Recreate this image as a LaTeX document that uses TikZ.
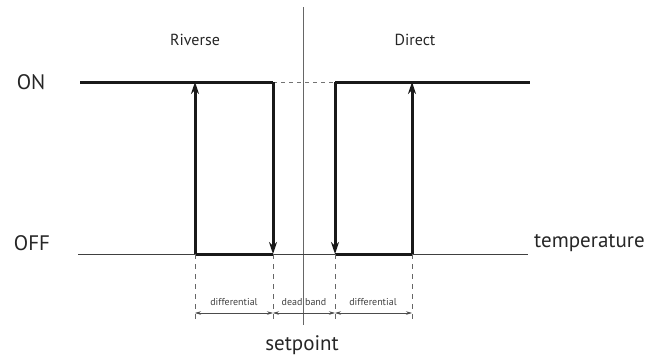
\documentclass[tikz,border=0pt]{standalone}
\usepackage{fontspec}
\setmainfont{PT Sans}
\usetikzlibrary{arrows.meta}
\begin{document}
\begin{tikzpicture}[x=1pt,y=-1pt,
  thickln/.style={line width=3pt,draw=black!90},
  thinln/.style={line width=1pt,draw=black!75},
  upar/.style={thickln,-{Stealth[length=12pt,width=8pt]}},
  dimar/.style={line width=0.6pt,draw=black!70,{Stealth[length=6pt,width=3.5pt]}-{Stealth[length=6pt,width=3.5pt]}},
  guide/.style={line width=0.7pt,draw=black!60,dash pattern=on 5pt off 5pt},
  bigtxt/.style={font=\fontsize{21}{22}\selectfont,text=black!85,inner sep=0pt},
  midtxt/.style={font=\fontsize{16}{17}\selectfont,text=black!85,inner sep=0pt},
  smalltxt/.style={font=\fontsize{10}{11}\selectfont,text=black!75,inner sep=0pt}]
\useasboundingbox (0,0) rectangle (663,360);
% coordinates
\coordinate (onL) at (80,82);
\coordinate (onR) at (530,82);
\coordinate (offL) at (78,254);
\coordinate (offR) at (528,254);
\coordinate (t1) at (195,82);  \coordinate (b1) at (195,254);
\coordinate (t2) at (273,82);  \coordinate (b2) at (273,254);
\coordinate (t3) at (335,82);  \coordinate (b3) at (335,254);
\coordinate (t4) at (412,82);  \coordinate (b4) at (412,254);
\coordinate (spT) at (303,7);  \coordinate (spB) at (303,325);
\coordinate (d1) at (195,320); \coordinate (d2) at (273,320);
\coordinate (d3) at (335,320); \coordinate (d4) at (412,320);
\coordinate (m1) at (195,313); \coordinate (m2) at (273,313);
\coordinate (m3) at (335,313); \coordinate (m4) at (412,313);
% setpoint line
\draw[line width=0.9pt,draw=black!60] (spT) -- (spB);
% off axis
\draw[thinln] (offL) -- (offR);
% dashed at ON between pulses
\draw[line width=0.8pt,draw=black!55,dash pattern=on 4pt off 4pt] (t2) -- (t3);
% Riverse
\draw[thickln] (onL) -- (t2);
\draw[upar] (t2) -- (b2);
\draw[thickln] (b1) -- (b2);
\draw[upar] (b1) -- (t1);
% Direct
\draw[thickln] (t3) -- (onR);
\draw[upar] (t3) -- (b3);
\draw[thickln] (b3) -- (b4);
\draw[upar] (b4) -- (t4);
% guides
\draw[guide] (b1) -- (d1);
\draw[guide] (b2) -- (d2);
\draw[guide] (b3) -- (d3);
\draw[guide] (b4) -- (d4);
% dimensions
\draw[dimar] (m1) -- (m2);
\draw[dimar] (m2) -- (m3);
\draw[dimar] (m3) -- (m4);
% labels
\node[bigtxt] (on) at (31,82) {ON};
\node[bigtxt] (off) at (32,243) {OFF};
\node[bigtxt,anchor=west] (temp) at (534,243) {temperature};
\node[bigtxt] (sp) at (302,345) {setpoint};
\node[midtxt] (riv) at (195,40) {Riverse};
\node[midtxt] (dir) at (415,40) {Direct};
\node[smalltxt] (l1) at (234,302) {differential};
\node[smalltxt] (l2) at (304,302) {dead band};
\node[smalltxt] (l3) at (373,302) {differential};
\end{tikzpicture}
\end{document}
